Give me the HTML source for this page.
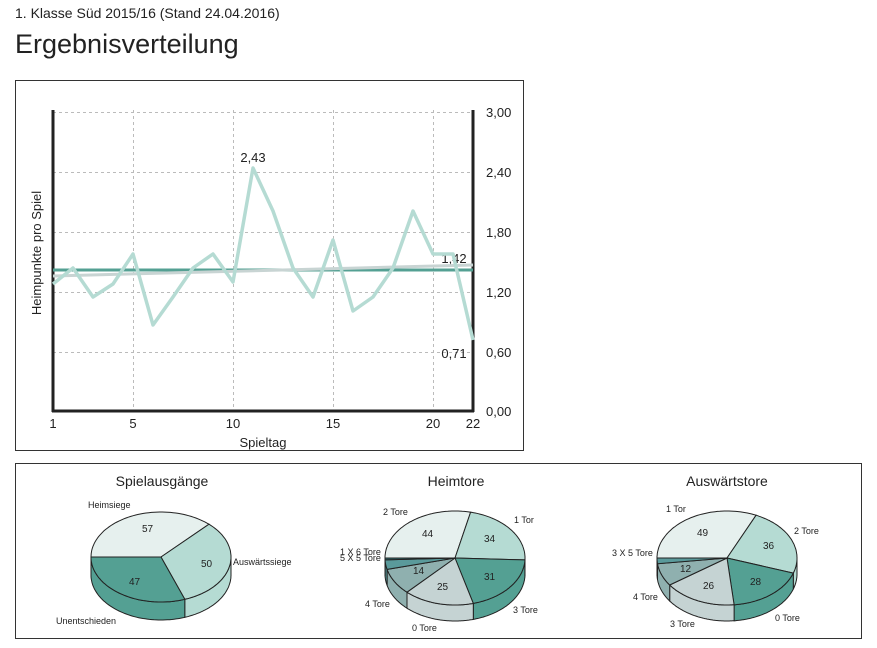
<!DOCTYPE html>
<html><head><meta charset="utf-8"><style>
body{margin:0;background:#fff;font-family:"Liberation Sans",Arial,sans-serif;width:877px;height:648px;overflow:hidden;position:relative}
.t1{position:absolute;left:15px;top:5px;font-size:14px;color:#222}
.t2{position:absolute;left:15px;top:29px;font-size:27px;color:#222}
svg{position:absolute;left:0;top:0}
</style></head><body>
<div class="t1">1. Klasse Süd 2015/16 (Stand 24.04.2016)</div>
<div class="t2">Ergebnisverteilung</div>
<svg id="s" width="877" height="648" font-family="Liberation Sans, Arial, sans-serif">
<rect x="15.5" y="80.5" width="508" height="370" fill="none" stroke="#333"/>
<rect x="15.5" y="463.5" width="846" height="175" fill="none" stroke="#333"/>
<g stroke="#bbb" stroke-dasharray="3,3" stroke-width="1">
<line x1="53" x2="473" y1="112.5" y2="112.5"/><line x1="53" x2="473" y1="172.5" y2="172.5"/>
<line x1="53" x2="473" y1="232.5" y2="232.5"/><line x1="53" x2="473" y1="292.5" y2="292.5"/>
<line x1="53" x2="473" y1="352.5" y2="352.5"/>
<line x1="133.5" x2="133.5" y1="110" y2="411"/><line x1="233.5" x2="233.5" y1="110" y2="411"/>
<line x1="333.5" x2="333.5" y1="110" y2="411"/><line x1="433.5" x2="433.5" y1="110" y2="411"/>
</g>
<g stroke="#222" stroke-width="3"><line x1="53" y1="110" x2="53" y2="412"/><line x1="473" y1="110" x2="473" y2="412"/><line x1="52" y1="411" x2="474" y2="411"/></g>
<g font-size="13" fill="#222">
<text x="486" y="117">3,00</text><text x="486" y="177">2,40</text><text x="486" y="237">1,80</text><text x="486" y="297">1,20</text><text x="486" y="357">0,60</text><text x="486" y="416">0,00</text>
<text x="53" y="428" text-anchor="middle">1</text><text x="133" y="428" text-anchor="middle">5</text><text x="233" y="428" text-anchor="middle">10</text><text x="333" y="428" text-anchor="middle">15</text><text x="433" y="428" text-anchor="middle">20</text><text x="473" y="428" text-anchor="middle">22</text>
<text x="263" y="447" text-anchor="middle">Spieltag</text>
<text transform="translate(41,253) rotate(-90)" text-anchor="middle">Heimpunkte pro Spiel</text>
<text x="253" y="162" text-anchor="middle">2,43</text><text x="454" y="263" text-anchor="middle">1,42</text><text x="454" y="358" text-anchor="middle">0,71</text>
</g>
<line x1="53" x2="473" y1="270" y2="270" stroke="#54a093" stroke-width="3"/>
<polyline points="53,276 473,265" stroke="#c8d4d3" stroke-width="3" fill="none"/>
<polyline id="pl" fill="none" stroke="#b5dbd3" stroke-width="3.5" stroke-linejoin="round"/>
<g font-size="14" fill="#222" text-anchor="middle">
<text x="162" y="486">Spielausgänge</text><text x="456" y="486">Heimtore</text><text x="727" y="486">Auswärtstore</text></g>
<g id="pies"></g>
<g font-size="9" fill="#222">
<text x="88" y="508">Heimsiege</text><text x="233" y="565">Auswärtssiege</text><text x="56" y="624">Unentschieden</text>
<text x="142" y="532" font-size="10">57</text><text x="201" y="567" font-size="10">50</text><text x="129" y="585" font-size="10">47</text>
<text x="383" y="515">2 Tore</text><text x="514" y="523">1 Tor</text><text x="340" y="555">1 X 6 Tore</text><text x="340" y="561">5 X 5 Tore</text><text x="365" y="607">4 Tore</text><text x="412" y="631">0 Tore</text><text x="513" y="613">3 Tore</text>
<text x="422" y="537" font-size="10">44</text><text x="484" y="542" font-size="10">34</text><text x="484" y="580" font-size="10">31</text><text x="437" y="590" font-size="10">25</text><text x="413" y="574" font-size="10">14</text>
<text x="666" y="512">1 Tor</text><text x="794" y="534">2 Tore</text><text x="612" y="556">3 X 5 Tore</text><text x="633" y="600">4 Tore</text><text x="670" y="627">3 Tore</text><text x="775" y="621">0 Tore</text>
<text x="697" y="536" font-size="10">49</text><text x="763" y="549" font-size="10">36</text><text x="750" y="585" font-size="10">28</text><text x="703" y="589" font-size="10">26</text><text x="680" y="572" font-size="10">12</text>
</g>
</svg>
<script>
var d=[1.27,1.43,1.14,1.27,1.57,0.86,1.14,1.43,1.57,1.29,2.43,2.0,1.43,1.14,1.71,1.0,1.14,1.43,2.0,1.57,1.57,0.71];
document.getElementById('pl').setAttribute('points',d.map(function(v,i){return (53+i*20)+','+(411-v*100)}).join(' '));
function pie(cx,cy,rx,ry,dep,vals,cols,sides){
 var tot=vals.reduce(function(a,b){return a+b},0),a=Math.PI,o='',side='',N=60;
 var P=function(t,dy){return [(cx+rx*Math.cos(t)).toFixed(1),(cy-ry*Math.sin(t)+(dy||0)).toFixed(1)].join(',')};
 var segs=[];
 vals.forEach(function(v,i){var b=a-v/tot*2*Math.PI;segs.push([a,b,i]);a=b;});
 segs.forEach(function(s){
  // side: portion of [b,a] within [-PI,0] (mod)
  var lo=s[1],hi=s[0];
  // normalize so range within (-2PI, PI]
  var ranges=[[Math.max(lo,-Math.PI),Math.min(hi,0)],[Math.max(lo,-3*Math.PI),Math.min(hi,-2*Math.PI)],[Math.max(lo,Math.PI),Math.min(hi,2*Math.PI)]];
  ranges.forEach(function(r){if(r[1]>r[0]){var p=[],q=[];for(var k=0;k<=N;k++){var t=r[0]+(r[1]-r[0])*k/N;p.push(P(t));q.unshift(P(t,dep));}
   side+='<polygon points="'+p.concat(q).join(' ')+'" fill="'+sides[s[2]]+'" stroke="#222" stroke-width="1"/>';}});
  var pts=[cx+','+cy];for(var k=0;k<=N;k++){pts.push(P(s[0]+(s[1]-s[0])*k/N));}
  o+='<polygon points="'+pts.join(' ')+'" fill="'+cols[s[2]]+'" stroke="#222" stroke-width="1"/>';
 });
 return side+o;
}
var C=['#e6f0ee','#b5dbd3','#54a093','#c5d3d3','#8fb0af','#54999a','#3d7f80'];
var S=['#d6e2e0','#b5dbd3','#54a093','#c5d3d3','#8fb0af','#54999a','#3d7f80'];
var h=pie(161,557,70,45,18,[57,50,47],C,S);
h+=pie(455,558,70,47,16,[44,34,31,25,14,5,1],['#e6f0ee','#b5dbd3','#54a093','#c5d3d3','#8fb0af','#5a9a9b','#2f6f70'],S.concat(['#2f6f70']));
h+=pie(727,558,70,47,16,[49,36,28,26,12,3],['#e6f0ee','#b5dbd3','#54a093','#c5d3d3','#8fb0af','#5a9a9b'],S);
document.getElementById('pies').innerHTML=h;
</script>
</body></html>
